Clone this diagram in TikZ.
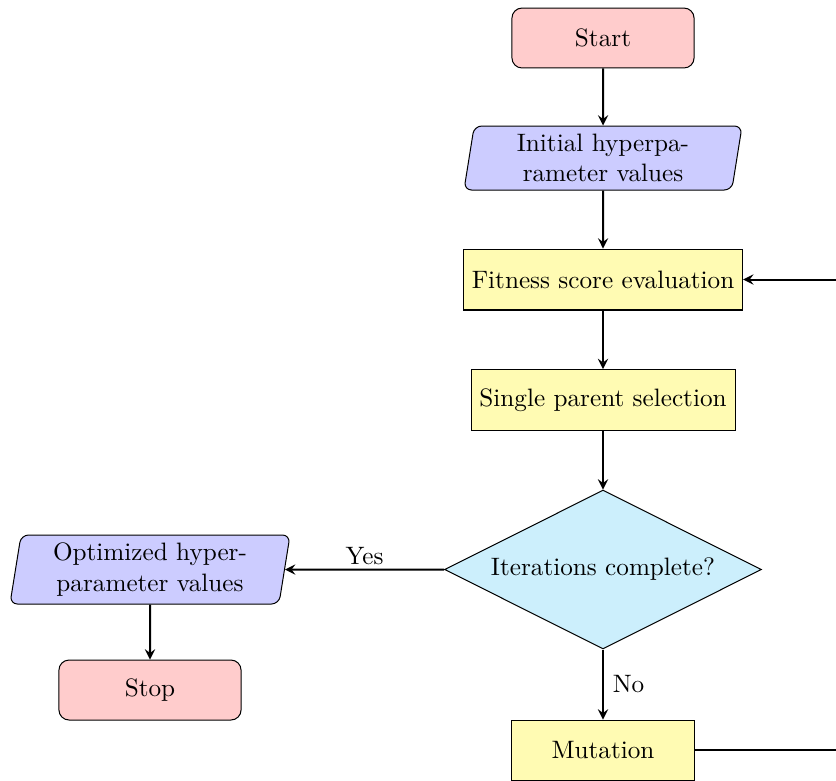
\documentclass[tikz,border=0pt]{standalone}
\usetikzlibrary{shapes.geometric,arrows}
\tikzset{
  term/.style={draw, rounded corners=4pt, fill=red!20, minimum width=72.3pt, minimum height=23.8pt, inner sep=2pt},
  io/.style={draw, trapezium, trapezium left angle=80, trapezium right angle=100, trapezium stretches body, rounded corners=3pt, fill=blue!20, minimum width=110.4pt, minimum height=25.4pt, align=center, inner sep=2pt},
  proc/.style={draw, fill=yellow!30, minimum height=24.2pt},
  decis/.style={draw, diamond, aspect=2, fill=cyan!20, minimum width=125.8pt, minimum height=63.1pt, inner sep=0pt},
  arr/.style={->, >=stealth, thick},
  lbl/.style={inner sep=1.5pt}
}
\begin{document}
\begin{tikzpicture}[x=0.397pt, y=-0.397pt]
\clip (0,0) rectangle (836,780);
\node[term] (start) at (603,38) {Start};
\node[io] (init) at (603,158) {Initial hyperpa-\\rameter values};
\node[proc] (fit) at (603,279.5) {Fitness score evaluation};
\node[proc] (sel) at (603,400) {Single parent selection};
\node[decis] (dec) at (603,569.5) {Iterations complete?};
\node[io, minimum width=111.2pt, minimum height=27.4pt] (opt) at (150,569.5) {Optimized hyper-\\parameter values};
\node[term] (stop) at (150,690) {Stop};
\node[proc, minimum width=72.3pt, minimum height=23.8pt] (mut) at (603,750) {Mutation};
\coordinate (r) at (880,750);
\draw[arr] (start) -- (init);
\draw[arr] (init) -- (fit);
\draw[arr] (fit) -- (sel);
\draw[arr] (sel) -- (dec);
\draw[arr] (dec) -- node[lbl, above, pos=0.5] {Yes} (opt);
\draw[arr] (dec) -- node[lbl, right, inner sep=3.5pt, pos=0.5] {No} (mut);
\draw[arr] (opt) -- (stop);
\draw[arr] (mut.east) -- (r) |- (fit.east);
\end{tikzpicture}
\end{document}
